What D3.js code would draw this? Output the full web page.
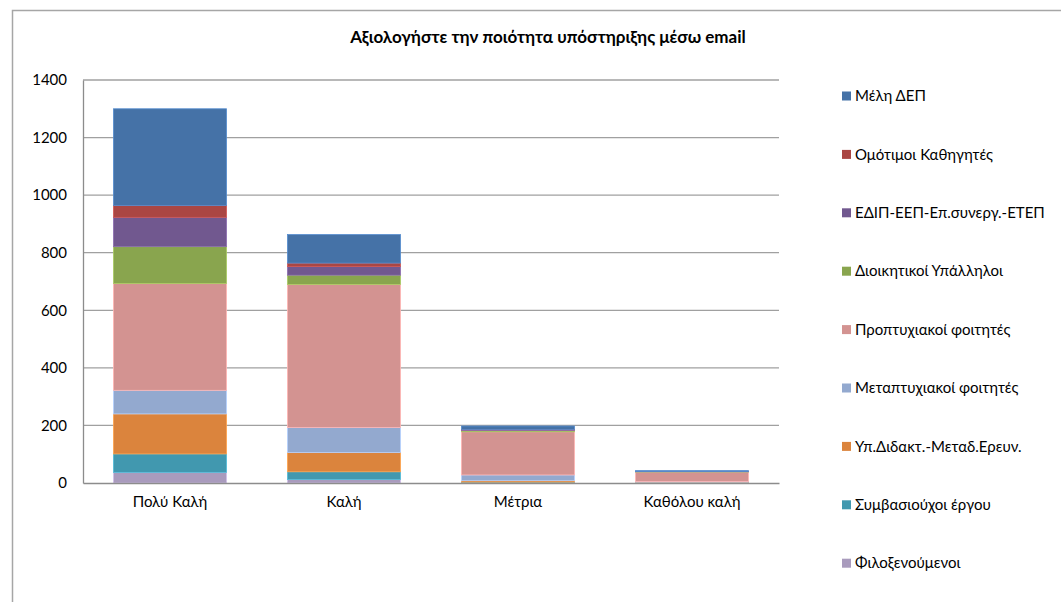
<!DOCTYPE html>
<html>
<head>
<meta charset="utf-8">
<script src="https://cdn.jsdelivr.net/npm/d3@7"></script>
<style>
    body { margin: 0; background: #fff; }
    svg { font-family: Lato, 'Open Sans', sans-serif; }
</style>
</head>
<body>
<svg id="chart" width="1061" height="602"></svg>
<script>
const categories = ['Πολύ Καλή', 'Καλή', 'Μέτρια', 'Καθόλου καλή']

// series listed bottom-to-top of the stack
const seriesNames = [
    'Φιλοξενούμενοι',
    'Συμβασιούχοι έργου',
    'Υπ.Διδακτ.-Μεταδ.Ερευν.',
    'Μεταπτυχιακοί φοιτητές',
    'Προπτυχιακοί φοιτητές',
    'Διοικητικοί Υπάλληλοι',
    'ΕΔΙΠ-ΕΕΠ-Επ.συνεργ.-ΕΤΕΠ',
    'Ομότιμοι Καθηγητές',
    'Μέλη ΔΕΠ'
]
const seriesColors = ['#a99bbd', '#4198af', '#db843d', '#93a9cf', '#d39391', '#89a54e', '#71588f', '#aa4643', '#4572a7']

const filoxenoumenoi = [37, 12, 1, 1]
const symvasiouxoi = [64, 27, 2, 1]
const ypDidakt = [139, 67, 5, 1]
const metaptyxiakoi = [82, 87, 20, 2]
const proptyxiakoi = [371, 497, 150, 33]
const dioikitikoi = [128, 32, 4, 1]
const edip = [102, 30, 3, 1]
const omotimoi = [41, 12, 1, 0]
const melhDep = [336, 99, 12, 3]

const yTicks = [0, 200, 400, 600, 800, 1000, 1200, 1400]

const seriesValues = [filoxenoumenoi, symvasiouxoi, ypDidakt, metaptyxiakoi, proptyxiakoi, dioikitikoi, edip, omotimoi, melhDep]

const rows = categories.map((c, i) => {
    const row = { cat: c }
    seriesNames.forEach((s, j) => (row[s] = seriesValues[j][i]))
    return row
})

const svg = d3.select('#chart')

// outer chart frame
svg.append('rect')
    .attr('x', 12.5).attr('y', 10.5)
    .attr('width', 1100).attr('height', 700)
    .attr('fill', 'none')
    .attr('stroke', '#a6a6a6')
    .attr('stroke-width', 1.5)

const plot = { left: 83, right: 779, top: 80, bottom: 483 }

const x = d3.scaleBand()
    .domain(categories)
    .range([plot.left, plot.right])
    .paddingInner(0.35)
    .paddingOuter(0.175)

const y = d3.scaleLinear().domain([0, 1400]).range([plot.bottom, plot.top])

svg.append('text')
    .attr('x', 548).attr('y', 43)
    .attr('text-anchor', 'middle')
    .attr('font-weight', 'bold')
    .attr('font-size', 17)
    .attr('fill', '#000')
    .text('Αξιολογήστε την ποιότητα υπόστηριξης μέσω email')

// gridlines
svg.append('g')
    .selectAll('line')
    .data(yTicks.slice(1))
    .join('line')
    .attr('x1', plot.left).attr('x2', plot.right)
    .attr('y1', (d) => y(d)).attr('y2', (d) => y(d))
    .attr('stroke', '#a0a0a0')
    .attr('stroke-width', 1.3)

const yAxis = svg.append('g')
    .attr('transform', `translate(${plot.left},0)`)
    .call(d3.axisLeft(y).tickValues(yTicks).tickFormat(d3.format('d')).tickSize(0).tickPadding(16))
yAxis.select('.domain').attr('stroke', '#8c8c8c').attr('stroke-width', 1.3)
yAxis.selectAll('text').attr('font-size', 15).attr('fill', '#000').attr('font-family', 'Lato, sans-serif')

const stack = d3.stack().keys(seriesNames)(rows)

svg.append('g')
    .selectAll('g')
    .data(stack)
    .join('g')
    .attr('fill', (d, i) => seriesColors[i])
    .attr('stroke', (d, i) => d3.color(seriesColors[i]).brighter(0.6))
    .attr('stroke-width', 0.8)
    .selectAll('rect')
    .data((d) => d)
    .join('rect')
    .attr('x', (d) => x(d.data.cat))
    .attr('width', x.bandwidth())
    .attr('y', (d) => y(d[1]))
    .attr('height', (d) => y(d[0]) - y(d[1]))

const xAxis = svg.append('g')
    .attr('transform', `translate(0,${plot.bottom})`)
    .call(d3.axisBottom(x).tickSize(0).tickPadding(13))
xAxis.select('.domain').attr('stroke', '#8c8c8c').attr('stroke-width', 1.5)
xAxis.selectAll('text').attr('font-size', 15).attr('fill', '#000').attr('font-family', 'Lato, sans-serif')

// legend, top entry first
const legendItems = seriesNames.map((s, i) => ({ name: s, color: seriesColors[i] })).reverse()

const legend = svg.append('g')
    .selectAll('g')
    .data(legendItems)
    .join('g')
    .attr('transform', (d, i) => `translate(842,${96 + i * 58.4})`)

legend.append('rect')
    .attr('x', 0).attr('y', -4.5)
    .attr('width', 9).attr('height', 9)
    .attr('fill', (d) => d.color)

legend.append('text')
    .attr('x', 13).attr('y', 0)
    .attr('dy', '0.35em')
    .attr('font-size', 15)
    .attr('fill', '#000')
    .text((d) => d.name)
</script>
</body>
</html>
